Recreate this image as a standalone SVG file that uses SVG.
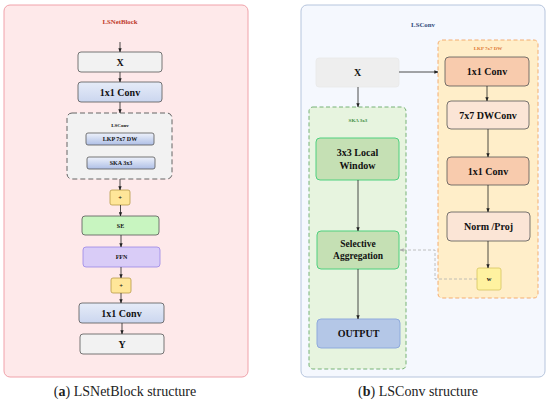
<svg xmlns="http://www.w3.org/2000/svg" width="550" height="404" viewBox="0 0 550 404">
<defs>
<linearGradient id="gb" x1="0" y1="0" x2="0" y2="1"><stop offset="0" stop-color="#eef2fb"/><stop offset="1" stop-color="#aebfe6"/></linearGradient>
<linearGradient id="gb2" x1="0" y1="0" x2="0" y2="1"><stop offset="0" stop-color="#e6ecf8"/><stop offset="1" stop-color="#cbd6ef"/></linearGradient>
<marker id="ah" viewBox="0 0 6 6" refX="5.5" refY="3" markerWidth="5" markerHeight="5" orient="auto"><path d="M0,0.5 L6,3 L0,5.5 z" fill="#222"/></marker>
<marker id="ahg" viewBox="0 0 6 6" refX="5.5" refY="3" markerWidth="5" markerHeight="5" orient="auto"><path d="M0,0.5 L6,3 L0,5.5 z" fill="#aaa"/></marker>
<style>
text{font-family:"Liberation Serif","Times New Roman",serif;font-weight:bold;text-anchor:middle;fill:#111}
.t10{font-size:10px}
.t6{font-size:6px}
.t5{font-size:5px}
.tp{font-size:6.5px}
.ttl{font-size:6.8px}
.cap{font-size:14px;font-weight:normal;fill:#222}
.box{stroke:#555;stroke-width:0.8}
.conn line,.conn path{stroke:#222;stroke-width:0.8;fill:none;marker-end:url(#ah)}
.conn .dsh{stroke:#b0b0b0;stroke-dasharray:3 2;marker-end:url(#ahg)}
</style>
</defs>
<rect x="4" y="5" width="244" height="372" rx="6" fill="#fee9ea" stroke="#f0a2aa" stroke-width="1"/>
<text class="ttl" x="120" y="23.5" style="fill:#c0392b">LSNetBlock</text>
<rect x="301" y="5" width="244" height="372" rx="6" fill="#f5f8fe" stroke="#b6c5dd" stroke-width="1"/>
<text class="ttl" x="423" y="27" style="fill:#2f4a7a">LSConv</text>
<g id="lsconv-group"><rect x="67" y="113" width="105" height="66" rx="5" fill="#f2f2f2" stroke="#555" stroke-width="0.9" stroke-dasharray="5 3"/><text class="t5" x="120" y="127">LSConv</text></g>
<g id="lkp-region"><rect x="438" y="40" width="100" height="258" rx="4" fill="#ffeec9" stroke="#f3a564" stroke-width="0.9" stroke-dasharray="4 2.5"/><text class="t5" x="488" y="49.5" style="fill:#e07b39">LKP 7x7 DW</text></g>
<g id="ska-region"><rect x="309" y="107" width="97" height="262" rx="4" fill="#e7f4df" stroke="#6aaa6a" stroke-width="0.9" stroke-dasharray="4 2.5"/><text class="t5" x="358" y="122" style="fill:#3e8e3e">SKA 3x3</text></g>
<g id="a-x"><rect class="box" x="78" y="52" width="84" height="20" rx="3" fill="#f2f2f2"/><text class="t10" x="120" y="65.5">X</text></g>
<g id="a-conv1"><rect class="box" x="78" y="82" width="84" height="20" rx="3" fill="url(#gb2)"/><text class="t10" x="120" y="95.5">1x1 Conv</text></g>
<g id="a-lkp"><rect class="box" x="86" y="133" width="68" height="12" rx="2" fill="url(#gb)"/><text class="t6" x="120" y="141.3">LKP 7x7 DW</text></g>
<g id="a-ska"><rect class="box" x="87" y="157" width="68" height="12" rx="2" fill="url(#gb)"/><text class="t6" x="121" y="165.3">SKA 3x3</text></g>
<g id="a-add1"><rect x="110" y="190" width="20" height="15" rx="2" fill="#ffe699" stroke="#b89a48" stroke-width="0.8"/><text class="tp" x="120" y="199.8">+</text></g>
<g id="a-se"><rect class="box" x="82" y="216" width="77" height="19" rx="3" fill="#c8f5c0"/><text class="t6" x="120.5" y="227.5">SE</text></g>
<g id="a-ffn"><rect x="83" y="247" width="77" height="20" rx="3" fill="#d9ccf7" stroke="#9b85e6" stroke-width="0.8"/><text class="t6" x="121.5" y="259">FFN</text></g>
<g id="a-add2"><rect x="111" y="278" width="20" height="15" rx="2" fill="#ffe699" stroke="#b89a48" stroke-width="0.8"/><text class="tp" x="121" y="287.8">+</text></g>
<g id="a-conv2"><rect class="box" x="79" y="303" width="85" height="20" rx="3" fill="url(#gb2)"/><text class="t10" x="121.5" y="316.5">1x1 Conv</text></g>
<g id="a-y"><rect class="box" x="80" y="334" width="84" height="20" rx="3" fill="#f2f2f2"/><text class="t10" x="122" y="347.5">Y</text></g>
<g id="b-x"><rect x="316" y="58" width="83" height="29" rx="3" fill="#eeeeee" stroke="#e8e8e8" stroke-width="0.8"/><text class="t10" x="357.5" y="76">X</text></g>
<g id="b-local"><rect x="316" y="138" width="83" height="42" rx="4" fill="#c5e0b4" stroke="#4fd07f" stroke-width="1"/><text class="t10" x="357.5" y="156">3x3 Local</text><text class="t10" x="357.5" y="168.5">Window</text></g>
<g id="b-agg"><rect x="317" y="231" width="82" height="38" rx="4" fill="#c5e0b4" stroke="#4fd07f" stroke-width="1"/><text class="t10" x="358" y="246.5" style="font-size:9.5px">Selective</text><text class="t10" x="358" y="259" style="font-size:9.5px">Aggregation</text></g>
<g id="b-out"><rect x="317" y="319" width="83" height="29" rx="4" fill="#b4c7e7" stroke="#8faadc" stroke-width="1"/><text class="t10" x="358.5" y="337">OUTPUT</text></g>
<g id="b-conv1"><rect class="box" x="445" y="57" width="84" height="29" rx="4" fill="#f8cbad"/><text class="t10" x="487" y="75">1x1 Conv</text></g>
<g id="b-dw"><rect class="box" x="447" y="101" width="82" height="28" rx="4" fill="#fbe5d6"/><text class="t10" x="488" y="118.5">7x7 DWConv</text></g>
<g id="b-conv2"><rect class="box" x="447" y="157" width="82" height="28" rx="4" fill="#f8cbad"/><text class="t10" x="488" y="174.5">1x1 Conv</text></g>
<g id="b-norm"><rect class="box" x="447" y="212" width="83" height="29" rx="4" fill="#fbe5d6"/><text class="t10" x="488.5" y="229.5">Norm /Proj</text></g>
<g id="b-w"><rect x="477" y="268" width="24" height="22" rx="2" fill="#fff2a0" stroke="#d6c460" stroke-width="0.8"/><text class="tp" x="489" y="281">w</text></g>
<g class="conn" id="connectors">
<line x1="120" y1="42" x2="120" y2="52"/>
<line x1="120" y1="72" x2="120" y2="82"/>
<line x1="120" y1="102" x2="120" y2="113"/>
<line x1="120" y1="179" x2="120" y2="190"/>
<line x1="120.5" y1="205" x2="120.5" y2="216"/>
<line x1="121" y1="235" x2="121" y2="247"/>
<line x1="121" y1="267" x2="121" y2="278"/>
<line x1="121" y1="293" x2="121" y2="303"/>
<line x1="122" y1="323" x2="122" y2="334"/>
<line x1="399" y1="72" x2="438" y2="72"/>
<line x1="358" y1="87" x2="358" y2="107"/>
<line x1="358" y1="180" x2="358" y2="231"/>
<line x1="358" y1="269" x2="358" y2="319"/>
<line x1="487" y1="86" x2="487" y2="101"/>
<line x1="488" y1="129" x2="488" y2="157"/>
<line x1="488" y1="185" x2="488" y2="212"/>
<line x1="488" y1="241" x2="488" y2="268"/>
<path class="dsh" d="M477,279 H435 V250 H400"/>
</g>
<text class="cap" x="125" y="396">(<tspan font-weight="bold">a</tspan>) LSNetBlock structure</text>
<text class="cap" x="418" y="396">(<tspan font-weight="bold">b</tspan>) LSConv structure</text>
</svg>
